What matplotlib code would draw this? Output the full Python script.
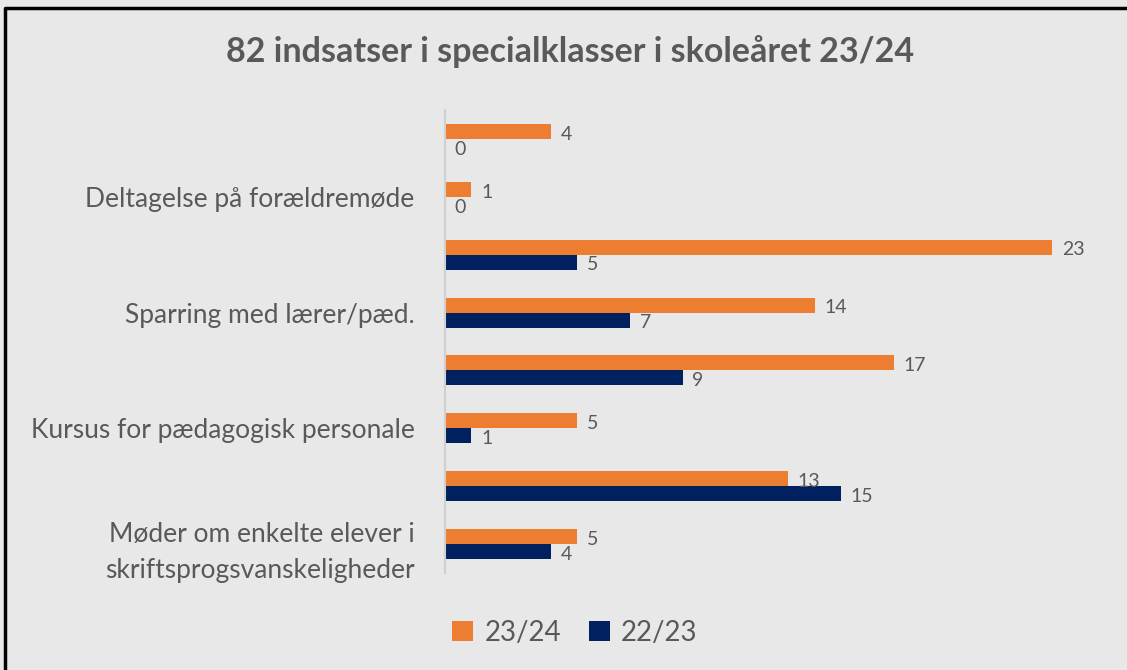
import matplotlib.pyplot as plt
from matplotlib.lines import Line2D
import numpy as np

plt.rcParams['font.family'] = ['Lato', 'DejaVu Sans']

# categories from top to bottom (only every other label is shown in the original)
categories = ['', 'Deltagelse på forældremøde', '', 'Sparring med lærer/pæd.',
              '', 'Kursus for pædagogisk personale', '',
              'Møder om enkelte elever i\nskriftsprogsvanskeligheder']
v_2324 = [4, 1, 23, 14, 17, 5, 13, 5]
v_2223 = [0, 0, 5, 7, 9, 1, 15, 4]

bg = '#E8E8E8'
orange = '#ED7D31'
navy = '#002060'
txt = '#595959'

fig = plt.figure(figsize=(11.27, 6.70), dpi=100, facecolor=bg)
# frame: only top and left edges are visible in the original
x0, y0 = 5 / 1127, 1 - 8 / 670
fig.lines.append(Line2D([x0, x0, 1.1], [-0.1, y0, y0], transform=fig.transFigure,
                        color='black', linewidth=2.5))

ax = fig.add_axes([445 / 1127, 97 / 670, 660 / 1127, 463 / 670])
ax.set_facecolor(bg)

y = np.arange(len(categories))
h = 0.26
b1 = ax.barh(y - h / 2, v_2324, height=h, color=orange, label='23/24')
b2 = ax.barh(y + h / 2, v_2223, height=h, color=navy, label='22/23')

for bars, vals in ((b1, v_2324), (b2, v_2223)):
    for bar, v in zip(bars, vals):
        ax.annotate(str(v), (v, bar.get_y() + bar.get_height() / 2),
                    xytext=(7, -2), textcoords='offset points',
                    va='center', ha='left', fontsize=14, color=txt)

ax.set_xlim(0, 25)
ax.set_ylim(len(categories) - 0.5, -0.5)
ax.set_yticks(y)
ax.set_yticklabels(categories, fontsize=19, color=txt, linespacing=1.55)
ax.tick_params(axis='y', length=0, pad=22)
ax.set_xticks([])
for s in ['top', 'right', 'bottom']:
    ax.spines[s].set_visible(False)
ax.spines['left'].set_color('#D0D0D0')
ax.spines['left'].set_linewidth(1.5)

fig.text(0.506, 1 - 52 / 670, '82 indsatser i specialklasser i skoleåret 23/24',
         ha='center', va='center', fontsize=24.5, fontweight='bold', color=txt)

fig.legend(handles=[b1, b2], loc='center', bbox_to_anchor=(0.51, 1 - 633 / 670),
           ncol=2, frameon=False, fontsize=20, labelcolor=txt,
           handlelength=0.75, handleheight=0.75, handletextpad=0.4, columnspacing=1.0)

fig.savefig('out.png', dpi=100, facecolor=bg)
